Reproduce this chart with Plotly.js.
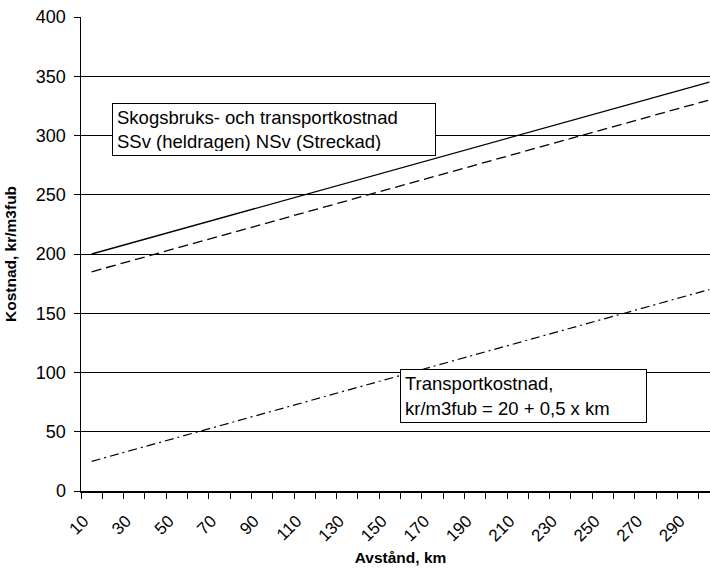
<!DOCTYPE html>
<html>
<head>
<meta charset="utf-8">
<script src="https://cdn.plot.ly/plotly-3.0.1.min.js"></script>
<style>
  html, body { margin: 0; padding: 0; overflow: hidden; background: #fff; }
  #chart { width: 720px; height: 570px; }
</style>
</head>
<body>
<div id="chart"></div>
<script>
// Distance categories (km)
const distanceKm = [10, 20, 30, 40, 50, 60, 70, 80, 90, 100,
                    110, 120, 130, 140, 150, 160, 170, 180, 190, 200,
                    210, 220, 230, 240, 250, 260, 270, 280, 290, 300];

// Forestry + transport cost, SSv (solid line), kr/m3fub
const costSSv = [200, 205, 210, 215, 220, 225, 230, 235, 240, 245,
                 250, 255, 260, 265, 270, 275, 280, 285, 290, 295,
                 300, 305, 310, 315, 320, 325, 330, 335, 340, 345];

// Forestry + transport cost, NSv (dashed line), kr/m3fub
const costNSv = [185, 190, 195, 200, 205, 210, 215, 220, 225, 230,
                 235, 240, 245, 250, 255, 260, 265, 270, 275, 280,
                 285, 290, 295, 300, 305, 310, 315, 320, 325, 330];

// Transport cost only: 20 + 0,5 x km
const costTransport = [25, 30, 35, 40, 45, 50, 55, 60, 65, 70,
                       75, 80, 85, 90, 95, 100, 105, 110, 115, 120,
                       125, 130, 135, 140, 145, 150, 155, 160, 165, 170];

// Every other category is labelled
const tickLabels = ["10", "30", "50", "70", "90", "110", "130", "150", "170", "190",
                    "210", "230", "250", "270", "290"];

const FONT = "Liberation Sans, Arial, sans-serif";
const step = distanceKm[1] - distanceKm[0];
const tickVals = tickLabels.map(Number);
// tick marks sit between categories
const boundaries = distanceKm.map(d => d - step / 2).concat([distanceKm[distanceKm.length - 1] + step / 2]);

const lineBase = { x: distanceKm, mode: "lines", hoverinfo: "skip", showlegend: false };

const traces = [
  Object.assign({}, lineBase, { y: costSSv, line: { color: "#000", width: 1.3, dash: "solid" } }),
  Object.assign({}, lineBase, { y: costNSv, line: { color: "#000", width: 1.3, dash: "10px,5px" } }),
  Object.assign({}, lineBase, { y: costTransport, line: { color: "#000", width: 1.2, dash: "9px,4px,2px,4px" } })
];

const layout = {
  width: 720,
  height: 570,
  margin: { l: 81, r: 0, t: 17, b: 79 },
  paper_bgcolor: "#fff",
  plot_bgcolor: "#fff",
  font: { family: FONT, color: "#000", size: 18 },
  xaxis: {
    range: [boundaries[0], boundaries[boundaries.length - 1]],
    tickmode: "array",
    tickvals: tickVals,
    ticktext: tickLabels,
    tickangle: -45,
    ticks: "",
    ticklabelstandoff: 12,
    ticklabelshift: -8,
    showgrid: false,
    zeroline: false,
    showline: true,
    linecolor: "#000",
    linewidth: 1.5,
    tickfont: { family: FONT, size: 17, color: "#000" },
    minor: {
      tickmode: "array",
      tickvals: boundaries,
      ticks: "outside",
      ticklen: 6,
      tickwidth: 1,
      tickcolor: "#000",
      showgrid: false
    },
    title: { text: "Avstånd, km", font: { family: FONT, size: 15.5, weight: "bold" }, standoff: 8 },
    fixedrange: true
  },
  yaxis: {
    range: [0, 400],
    tick0: 0,
    dtick: 50,
    ticks: "outside",
    ticklen: 6,
    tickcolor: "#000",
    ticklabelstandoff: 4,
    showgrid: true,
    gridcolor: "#000",
    gridwidth: 1,
    zeroline: false,
    showline: true,
    linecolor: "#000",
    linewidth: 1.5,
    tickfont: { family: FONT, size: 18, color: "#000" },
    fixedrange: true
  },
  annotations: [
    {
      // y-axis title, placed at the left edge of the figure
      xref: "paper", yref: "paper",
      x: 0, y: 0.5,
      xshift: -71,
      xanchor: "center", yanchor: "middle",
      textangle: -90,
      text: "<b>Kostnad, kr/m3fub</b>",
      showarrow: false,
      font: { family: FONT, size: 15.5, color: "#000" }
    },
    {
      xref: "x", yref: "y",
      x: 19.6, y: 327.4,
      xanchor: "left", yanchor: "top",
      text: "Skogsbruks- och transportkostnad<br>SSv (heldragen) NSv (Streckad)",
      showarrow: false,
      align: "left",
      valign: "middle",
      width: 314,
      height: 43,
      bgcolor: "#fff",
      bordercolor: "#000",
      borderwidth: 1,
      borderpad: 4,
      font: { family: FONT, size: 18.5, color: "#000" }
    },
    {
      xref: "x", yref: "y",
      x: 154.8, y: 103,
      xanchor: "left", yanchor: "top",
      text: "Transportkostnad,<br>kr/m3fub = 20 + 0,5 x km",
      showarrow: false,
      align: "left",
      valign: "middle",
      width: 237,
      height: 44,
      bgcolor: "#fff",
      bordercolor: "#000",
      borderwidth: 1,
      borderpad: 4,
      font: { family: FONT, size: 18.5, color: "#000" }
    }
  ]
};

Plotly.newPlot("chart", traces, layout, { displayModeBar: false, staticPlot: true });
</script>
</body>
</html>
